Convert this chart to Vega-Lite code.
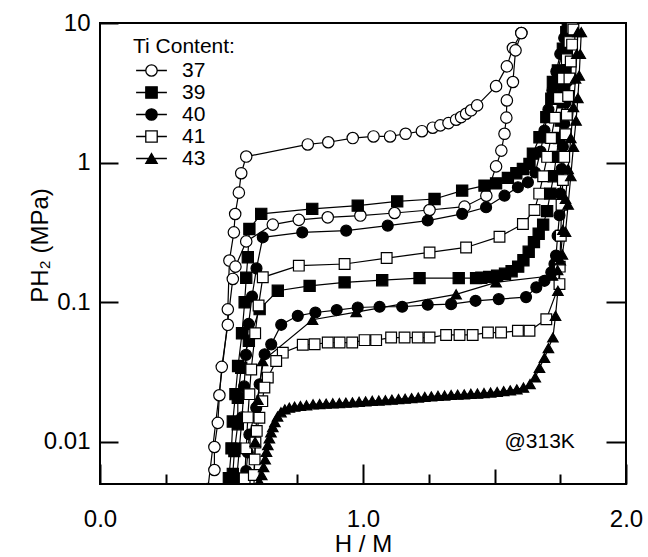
{
"$schema": "https://vega.github.io/schema/vega-lite/v6.json",
"width": 526, "height": 461,
"autosize": {"type": "none"},
"padding": {"left": 100, "top": 23, "right": 22, "bottom": 73},
"background": "white",
"config": {
 "view": {"stroke": "black", "strokeWidth": 2},
 "font": "Liberation Sans",
 "axis": {"domain": false, "grid": false, "tickColor": "black", "tickWidth": 2, "labelColor": "black", "titleColor": "black", "labelFont": "Liberation Sans", "titleFont": "Liberation Sans", "titleFontWeight": "normal", "labelFlush": false, "labelOverlap": false},
 "legend": {"orient": "none", "legendX": 33, "legendY": 13, "padding": 0, "titleFont": "Liberation Sans", "titleFontSize": 21, "titleFontWeight": "normal", "titleColor": "black", "titlePadding": 3, "labelFont": "Liberation Sans", "labelFontSize": 21, "labelColor": "black", "labelOffset": 20, "symbolOffset": 8, "rowPadding": 0, "symbolSize": 130, "symbolStrokeColor": "black", "symbolStrokeWidth": 1.3}
},
"datasets": {"pct": [
{"t":"37","b":"a","i":1,"h":0.435,"p":0.0063},{"t":"37","b":"a","i":2,"h":0.435,"p":0.0092},{"t":"37","b":"a","i":3,"h":0.448,"p":0.0137},{"t":"37","b":"a","i":4,"h":0.454,"p":0.0216},{"t":"37","b":"a","i":5,"h":0.463,"p":0.0345},{"t":"37","b":"a","i":6,"h":0.486,"p":0.069},{"t":"37","b":"a","i":7,"h":0.486,"p":0.089},{"t":"37","b":"a","i":8,"h":0.492,"p":0.199},{"t":"37","b":"a","i":9,"h":0.509,"p":0.317},{"t":"37","b":"a","i":10,"h":0.514,"p":0.429},{"t":"37","b":"a","i":11,"h":0.528,"p":0.61},{"t":"37","b":"a","i":12,"h":0.537,"p":0.84},{"t":"37","b":"a","i":13,"h":0.556,"p":1.106},{"t":"37","b":"a","i":14,"h":0.79,"p":1.35},{"t":"37","b":"a","i":15,"h":0.868,"p":1.4},{"t":"37","b":"a","i":16,"h":0.961,"p":1.5},{"t":"37","b":"a","i":17,"h":1.04,"p":1.54},{"t":"37","b":"a","i":18,"h":1.103,"p":1.54},{"t":"37","b":"a","i":19,"h":1.162,"p":1.61},{"t":"37","b":"a","i":20,"h":1.224,"p":1.68},{"t":"37","b":"a","i":21,"h":1.265,"p":1.78},{"t":"37","b":"a","i":22,"h":1.294,"p":1.85},{"t":"37","b":"a","i":23,"h":1.325,"p":1.92},{"t":"37","b":"a","i":24,"h":1.354,"p":2.03},{"t":"37","b":"a","i":25,"h":1.373,"p":2.12},{"t":"37","b":"a","i":26,"h":1.392,"p":2.24},{"t":"37","b":"a","i":27,"h":1.411,"p":2.37},{"t":"37","b":"a","i":28,"h":1.434,"p":2.57},{"t":"37","b":"a","i":29,"h":1.506,"p":3.53},{"t":"37","b":"a","i":30,"h":1.547,"p":4.89},{"t":"37","b":"a","i":31,"h":1.57,"p":6.62},{"t":"37","b":"a","i":32,"h":1.602,"p":8.47},
{"t":"37","b":"d","i":1,"h":1.602,"p":8.47},{"t":"37","b":"d","i":2,"h":1.58,"p":6.37},{"t":"37","b":"d","i":3,"h":1.57,"p":3.78},{"t":"37","b":"d","i":4,"h":1.547,"p":2.79},{"t":"37","b":"d","i":5,"h":1.545,"p":2.1},{"t":"37","b":"d","i":6,"h":1.538,"p":1.61},{"t":"37","b":"d","i":7,"h":1.526,"p":1.22},{"t":"37","b":"d","i":8,"h":1.506,"p":0.94},{"t":"37","b":"d","i":9,"h":1.469,"p":0.58},{"t":"37","b":"d","i":10,"h":1.386,"p":0.484},{"t":"37","b":"d","i":11,"h":1.253,"p":0.458},{"t":"37","b":"d","i":12,"h":1.12,"p":0.436},{"t":"37","b":"d","i":13,"h":0.99,"p":0.418},{"t":"37","b":"d","i":14,"h":0.866,"p":0.406},{"t":"37","b":"d","i":15,"h":0.756,"p":0.389},{"t":"37","b":"d","i":16,"h":0.657,"p":0.36},{"t":"37","b":"d","i":17,"h":0.556,"p":0.273},{"t":"37","b":"d","i":18,"h":0.515,"p":0.18},{"t":"37","b":"d","i":19,"h":0.505,"p":0.147},{"t":"37","b":"d","i":20,"h":0.41,"p":0.0046},
{"t":"39","b":"a","i":1,"h":0.49,"p":0.0055},{"t":"39","b":"a","i":2,"h":0.5,"p":0.009},{"t":"39","b":"a","i":3,"h":0.505,"p":0.014},{"t":"39","b":"a","i":4,"h":0.515,"p":0.022},{"t":"39","b":"a","i":5,"h":0.525,"p":0.035},{"t":"39","b":"a","i":6,"h":0.54,"p":0.06},{"t":"39","b":"a","i":7,"h":0.55,"p":0.1},{"t":"39","b":"a","i":8,"h":0.556,"p":0.15},{"t":"39","b":"a","i":9,"h":0.562,"p":0.21},{"t":"39","b":"a","i":10,"h":0.568,"p":0.335},{"t":"39","b":"a","i":11,"h":0.613,"p":0.43},{"t":"39","b":"a","i":12,"h":0.807,"p":0.467},{"t":"39","b":"a","i":13,"h":0.98,"p":0.492},{"t":"39","b":"a","i":14,"h":1.13,"p":0.528},{"t":"39","b":"a","i":15,"h":1.272,"p":0.549},{"t":"39","b":"a","i":16,"h":1.377,"p":0.631},{"t":"39","b":"a","i":17,"h":1.462,"p":0.685},{"t":"39","b":"a","i":18,"h":1.506,"p":0.711},{"t":"39","b":"a","i":19,"h":1.551,"p":0.778},{"t":"39","b":"a","i":20,"h":1.583,"p":0.84},{"t":"39","b":"a","i":21,"h":1.608,"p":0.9},{"t":"39","b":"a","i":22,"h":1.633,"p":0.98},{"t":"39","b":"a","i":23,"h":1.646,"p":1.16},{"t":"39","b":"a","i":24,"h":1.671,"p":1.52},{"t":"39","b":"a","i":25,"h":1.697,"p":2.12},{"t":"39","b":"a","i":26,"h":1.716,"p":2.87},{"t":"39","b":"a","i":27,"h":1.722,"p":3.78},{"t":"39","b":"a","i":28,"h":1.741,"p":4.58},{"t":"39","b":"a","i":29,"h":1.76,"p":6.55},{"t":"39","b":"a","i":30,"h":1.773,"p":8.6},
{"t":"39","b":"d","i":1,"h":1.785,"p":9.6},{"t":"39","b":"d","i":2,"h":1.78,"p":7.5},{"t":"39","b":"d","i":3,"h":1.775,"p":5.8},{"t":"39","b":"d","i":4,"h":1.77,"p":4.5},{"t":"39","b":"d","i":5,"h":1.765,"p":3.5},{"t":"39","b":"d","i":6,"h":1.76,"p":2.7},{"t":"39","b":"d","i":7,"h":1.752,"p":2.0},{"t":"39","b":"d","i":8,"h":1.745,"p":1.5},{"t":"39","b":"d","i":9,"h":1.735,"p":1.1},{"t":"39","b":"d","i":10,"h":1.725,"p":0.8},{"t":"39","b":"d","i":11,"h":1.712,"p":0.6},{"t":"39","b":"d","i":12,"h":1.7,"p":0.45},{"t":"39","b":"d","i":13,"h":1.685,"p":0.36},{"t":"39","b":"d","i":14,"h":1.668,"p":0.31},{"t":"39","b":"d","i":15,"h":1.65,"p":0.27},{"t":"39","b":"d","i":16,"h":1.63,"p":0.23},{"t":"39","b":"d","i":17,"h":1.61,"p":0.2},{"t":"39","b":"d","i":18,"h":1.59,"p":0.18},{"t":"39","b":"d","i":19,"h":1.565,"p":0.167},{"t":"39","b":"d","i":20,"h":1.54,"p":0.16},{"t":"39","b":"d","i":21,"h":1.51,"p":0.155},{"t":"39","b":"d","i":22,"h":1.48,"p":0.152},{"t":"39","b":"d","i":23,"h":1.45,"p":0.15},{"t":"39","b":"d","i":24,"h":1.43,"p":0.149},{"t":"39","b":"d","i":25,"h":1.364,"p":0.149},{"t":"39","b":"d","i":26,"h":1.215,"p":0.149},{"t":"39","b":"d","i":27,"h":1.073,"p":0.144},{"t":"39","b":"d","i":28,"h":0.93,"p":0.139},{"t":"39","b":"d","i":29,"h":0.797,"p":0.131},{"t":"39","b":"d","i":30,"h":0.676,"p":0.121},{"t":"39","b":"d","i":31,"h":0.607,"p":0.0893},{"t":"39","b":"d","i":32,"h":0.566,"p":0.053},{"t":"39","b":"d","i":33,"h":0.537,"p":0.034},{"t":"39","b":"d","i":34,"h":0.524,"p":0.0207},{"t":"39","b":"d","i":35,"h":0.524,"p":0.0134},{"t":"39","b":"d","i":36,"h":0.511,"p":0.0086},{"t":"39","b":"d","i":37,"h":0.505,"p":0.0059},
{"t":"40","b":"a","i":1,"h":0.52,"p":0.0055},{"t":"40","b":"a","i":2,"h":0.53,"p":0.009},{"t":"40","b":"a","i":3,"h":0.54,"p":0.015},{"t":"40","b":"a","i":4,"h":0.548,"p":0.025},{"t":"40","b":"a","i":5,"h":0.555,"p":0.042},{"t":"40","b":"a","i":6,"h":0.565,"p":0.07},{"t":"40","b":"a","i":7,"h":0.578,"p":0.11},{"t":"40","b":"a","i":8,"h":0.595,"p":0.175},{"t":"40","b":"a","i":9,"h":0.619,"p":0.292},{"t":"40","b":"a","i":10,"h":0.769,"p":0.317},{"t":"40","b":"a","i":11,"h":0.936,"p":0.326},{"t":"40","b":"a","i":12,"h":1.094,"p":0.354},{"t":"40","b":"a","i":13,"h":1.246,"p":0.385},{"t":"40","b":"a","i":14,"h":1.377,"p":0.43},{"t":"40","b":"a","i":15,"h":1.468,"p":0.479},{"t":"40","b":"a","i":16,"h":1.538,"p":0.58},{"t":"40","b":"a","i":17,"h":1.589,"p":0.667},{"t":"40","b":"a","i":18,"h":1.627,"p":0.723},{"t":"40","b":"a","i":19,"h":1.655,"p":0.85},{"t":"40","b":"a","i":20,"h":1.675,"p":1.2},{"t":"40","b":"a","i":21,"h":1.69,"p":1.7},{"t":"40","b":"a","i":22,"h":1.705,"p":2.4},{"t":"40","b":"a","i":23,"h":1.72,"p":3.3},{"t":"40","b":"a","i":24,"h":1.735,"p":4.5},{"t":"40","b":"a","i":25,"h":1.75,"p":6.0},{"t":"40","b":"a","i":26,"h":1.765,"p":7.8},{"t":"40","b":"a","i":27,"h":1.778,"p":9.6},
{"t":"40","b":"d","i":1,"h":1.79,"p":9.5},{"t":"40","b":"d","i":2,"h":1.785,"p":7.0},{"t":"40","b":"d","i":3,"h":1.78,"p":5.2},{"t":"40","b":"d","i":4,"h":1.775,"p":3.8},{"t":"40","b":"d","i":5,"h":1.77,"p":2.7},{"t":"40","b":"d","i":6,"h":1.765,"p":1.9},{"t":"40","b":"d","i":7,"h":1.76,"p":1.3},{"t":"40","b":"d","i":8,"h":1.755,"p":0.9},{"t":"40","b":"d","i":9,"h":1.75,"p":0.6},{"t":"40","b":"d","i":10,"h":1.747,"p":0.42},{"t":"40","b":"d","i":11,"h":1.74,"p":0.3},{"t":"40","b":"d","i":12,"h":1.734,"p":0.216},{"t":"40","b":"d","i":13,"h":1.728,"p":0.188},{"t":"40","b":"d","i":14,"h":1.716,"p":0.164},{"t":"40","b":"d","i":15,"h":1.69,"p":0.1425},{"t":"40","b":"d","i":16,"h":1.659,"p":0.128},{"t":"40","b":"d","i":17,"h":1.62,"p":0.109},{"t":"40","b":"d","i":18,"h":1.516,"p":0.1054},{"t":"40","b":"d","i":19,"h":1.428,"p":0.1025},{"t":"40","b":"d","i":20,"h":1.335,"p":0.097},{"t":"40","b":"d","i":21,"h":1.246,"p":0.096},{"t":"40","b":"d","i":22,"h":1.149,"p":0.0929},{"t":"40","b":"d","i":23,"h":1.063,"p":0.0929},{"t":"40","b":"d","i":24,"h":0.98,"p":0.0918},{"t":"40","b":"d","i":25,"h":0.9,"p":0.088},{"t":"40","b":"d","i":26,"h":0.819,"p":0.0845},{"t":"40","b":"d","i":27,"h":0.752,"p":0.08},{"t":"40","b":"d","i":28,"h":0.689,"p":0.069},{"t":"40","b":"d","i":29,"h":0.651,"p":0.05},{"t":"40","b":"d","i":30,"h":0.626,"p":0.0425},{"t":"40","b":"d","i":31,"h":0.607,"p":0.0259},{"t":"40","b":"d","i":32,"h":0.594,"p":0.0176},{"t":"40","b":"d","i":33,"h":0.568,"p":0.0113},{"t":"40","b":"d","i":34,"h":0.562,"p":0.0084},{"t":"40","b":"d","i":35,"h":0.556,"p":0.0062},
{"t":"41","b":"a","i":1,"h":0.55,"p":0.0055},{"t":"41","b":"a","i":2,"h":0.556,"p":0.009},{"t":"41","b":"a","i":3,"h":0.562,"p":0.015},{"t":"41","b":"a","i":4,"h":0.568,"p":0.022},{"t":"41","b":"a","i":5,"h":0.575,"p":0.033},{"t":"41","b":"a","i":6,"h":0.59,"p":0.06},{"t":"41","b":"a","i":7,"h":0.603,"p":0.095},{"t":"41","b":"a","i":8,"h":0.619,"p":0.151},{"t":"41","b":"a","i":9,"h":0.756,"p":0.183},{"t":"41","b":"a","i":10,"h":0.93,"p":0.188},{"t":"41","b":"a","i":11,"h":1.09,"p":0.2075},{"t":"41","b":"a","i":12,"h":1.253,"p":0.2276},{"t":"41","b":"a","i":13,"h":1.392,"p":0.247},{"t":"41","b":"a","i":14,"h":1.519,"p":0.295},{"t":"41","b":"a","i":15,"h":1.608,"p":0.364},{"t":"41","b":"a","i":16,"h":1.652,"p":0.458},{"t":"41","b":"a","i":17,"h":1.67,"p":0.6},{"t":"41","b":"a","i":18,"h":1.685,"p":0.8},{"t":"41","b":"a","i":19,"h":1.7,"p":1.1},{"t":"41","b":"a","i":20,"h":1.715,"p":1.5},{"t":"41","b":"a","i":21,"h":1.73,"p":2.1},{"t":"41","b":"a","i":22,"h":1.745,"p":2.9},{"t":"41","b":"a","i":23,"h":1.76,"p":4.0},{"t":"41","b":"a","i":24,"h":1.775,"p":5.5},{"t":"41","b":"a","i":25,"h":1.785,"p":7.3},{"t":"41","b":"a","i":26,"h":1.795,"p":9.2},
{"t":"41","b":"d","i":1,"h":1.8,"p":9.0},{"t":"41","b":"d","i":2,"h":1.795,"p":7.0},{"t":"41","b":"d","i":3,"h":1.79,"p":5.3},{"t":"41","b":"d","i":4,"h":1.785,"p":4.0},{"t":"41","b":"d","i":5,"h":1.78,"p":3.0},{"t":"41","b":"d","i":6,"h":1.775,"p":2.2},{"t":"41","b":"d","i":7,"h":1.77,"p":1.6},{"t":"41","b":"d","i":8,"h":1.765,"p":1.1},{"t":"41","b":"d","i":9,"h":1.76,"p":0.75},{"t":"41","b":"d","i":10,"h":1.755,"p":0.5},{"t":"41","b":"d","i":11,"h":1.752,"p":0.3},{"t":"41","b":"d","i":12,"h":1.748,"p":0.18},{"t":"41","b":"d","i":13,"h":1.747,"p":0.135},{"t":"41","b":"d","i":14,"h":1.697,"p":0.0757},{"t":"41","b":"d","i":15,"h":1.633,"p":0.0625},{"t":"41","b":"d","i":16,"h":1.589,"p":0.0625},{"t":"41","b":"d","i":17,"h":1.525,"p":0.0607},{"t":"41","b":"d","i":18,"h":1.475,"p":0.0607},{"t":"41","b":"d","i":19,"h":1.417,"p":0.0584},{"t":"41","b":"d","i":20,"h":1.367,"p":0.0584},{"t":"41","b":"d","i":21,"h":1.316,"p":0.0584},{"t":"41","b":"d","i":22,"h":1.253,"p":0.0559},{"t":"41","b":"d","i":23,"h":1.208,"p":0.0559},{"t":"41","b":"d","i":24,"h":1.158,"p":0.0559},{"t":"41","b":"d","i":25,"h":1.107,"p":0.0559},{"t":"41","b":"d","i":26,"h":1.05,"p":0.0536},{"t":"41","b":"d","i":27,"h":1.006,"p":0.0536},{"t":"41","b":"d","i":28,"h":0.959,"p":0.0515},{"t":"41","b":"d","i":29,"h":0.911,"p":0.0515},{"t":"41","b":"d","i":30,"h":0.866,"p":0.0515},{"t":"41","b":"d","i":31,"h":0.816,"p":0.0501},{"t":"41","b":"d","i":32,"h":0.771,"p":0.0496},{"t":"41","b":"d","i":33,"h":0.695,"p":0.0436},{"t":"41","b":"d","i":34,"h":0.67,"p":0.038},{"t":"41","b":"d","i":35,"h":0.638,"p":0.0289},{"t":"41","b":"d","i":36,"h":0.625,"p":0.0245},{"t":"41","b":"d","i":37,"h":0.617,"p":0.0196},{"t":"41","b":"d","i":38,"h":0.606,"p":0.0149},{"t":"41","b":"d","i":39,"h":0.596,"p":0.012},{"t":"41","b":"d","i":40,"h":0.591,"p":0.0099},{"t":"41","b":"d","i":41,"h":0.588,"p":0.0075},{"t":"41","b":"d","i":42,"h":0.585,"p":0.0058},
{"t":"43","b":"a","i":1,"h":0.606,"p":0.0052},{"t":"43","b":"a","i":2,"h":0.615,"p":0.0058},{"t":"43","b":"a","i":3,"h":0.622,"p":0.0066},{"t":"43","b":"a","i":4,"h":0.628,"p":0.0075},{"t":"43","b":"a","i":5,"h":0.633,"p":0.0085},{"t":"43","b":"a","i":6,"h":0.638,"p":0.0095},{"t":"43","b":"a","i":7,"h":0.644,"p":0.0106},{"t":"43","b":"a","i":8,"h":0.65,"p":0.0117},{"t":"43","b":"a","i":9,"h":0.657,"p":0.0128},{"t":"43","b":"a","i":10,"h":0.665,"p":0.0139},{"t":"43","b":"a","i":11,"h":0.675,"p":0.0152},{"t":"43","b":"a","i":12,"h":0.688,"p":0.0163},{"t":"43","b":"a","i":13,"h":0.703,"p":0.0171},{"t":"43","b":"a","i":14,"h":0.72,"p":0.0176},{"t":"43","b":"a","i":15,"h":0.74,"p":0.0179},{"t":"43","b":"a","i":16,"h":0.762,"p":0.0181},{"t":"43","b":"a","i":17,"h":0.785,"p":0.0183},{"t":"43","b":"a","i":18,"h":0.81,"p":0.0186},{"t":"43","b":"a","i":19,"h":0.835,"p":0.0187},{"t":"43","b":"a","i":20,"h":0.86,"p":0.0188},{"t":"43","b":"a","i":21,"h":0.885,"p":0.0189},{"t":"43","b":"a","i":22,"h":0.91,"p":0.019},{"t":"43","b":"a","i":23,"h":0.935,"p":0.0191},{"t":"43","b":"a","i":24,"h":0.96,"p":0.0192},{"t":"43","b":"a","i":25,"h":0.985,"p":0.0194},{"t":"43","b":"a","i":26,"h":1.01,"p":0.0195},{"t":"43","b":"a","i":27,"h":1.035,"p":0.0197},{"t":"43","b":"a","i":28,"h":1.06,"p":0.0198},{"t":"43","b":"a","i":29,"h":1.085,"p":0.0199},{"t":"43","b":"a","i":30,"h":1.11,"p":0.0201},{"t":"43","b":"a","i":31,"h":1.135,"p":0.0203},{"t":"43","b":"a","i":32,"h":1.16,"p":0.0204},{"t":"43","b":"a","i":33,"h":1.185,"p":0.0206},{"t":"43","b":"a","i":34,"h":1.21,"p":0.0208},{"t":"43","b":"a","i":35,"h":1.235,"p":0.021},{"t":"43","b":"a","i":36,"h":1.26,"p":0.0212},{"t":"43","b":"a","i":37,"h":1.285,"p":0.0214},{"t":"43","b":"a","i":38,"h":1.31,"p":0.0215},{"t":"43","b":"a","i":39,"h":1.335,"p":0.0217},{"t":"43","b":"a","i":40,"h":1.36,"p":0.0218},{"t":"43","b":"a","i":41,"h":1.385,"p":0.0219},{"t":"43","b":"a","i":42,"h":1.41,"p":0.0221},{"t":"43","b":"a","i":43,"h":1.435,"p":0.0222},{"t":"43","b":"a","i":44,"h":1.46,"p":0.0224},{"t":"43","b":"a","i":45,"h":1.485,"p":0.0226},{"t":"43","b":"a","i":46,"h":1.51,"p":0.0228},{"t":"43","b":"a","i":47,"h":1.535,"p":0.0231},{"t":"43","b":"a","i":48,"h":1.56,"p":0.0234},{"t":"43","b":"a","i":49,"h":1.585,"p":0.0238},{"t":"43","b":"a","i":50,"h":1.61,"p":0.0245},{"t":"43","b":"a","i":51,"h":1.635,"p":0.026},{"t":"43","b":"a","i":52,"h":1.655,"p":0.029},{"t":"43","b":"a","i":53,"h":1.671,"p":0.034},{"t":"43","b":"a","i":54,"h":1.69,"p":0.04},{"t":"43","b":"a","i":55,"h":1.705,"p":0.047},{"t":"43","b":"a","i":56,"h":1.722,"p":0.056},{"t":"43","b":"a","i":57,"h":1.732,"p":0.08},{"t":"43","b":"a","i":58,"h":1.741,"p":0.121},{"t":"43","b":"a","i":59,"h":1.75,"p":0.2},{"t":"43","b":"a","i":60,"h":1.76,"p":0.33},{"t":"43","b":"a","i":61,"h":1.77,"p":0.55},{"t":"43","b":"a","i":62,"h":1.78,"p":0.9},{"t":"43","b":"a","i":63,"h":1.79,"p":1.5},{"t":"43","b":"a","i":64,"h":1.8,"p":2.5},{"t":"43","b":"a","i":65,"h":1.808,"p":4.0},{"t":"43","b":"a","i":66,"h":1.813,"p":6.0},{"t":"43","b":"a","i":67,"h":1.817,"p":8.6},
{"t":"43","b":"d","i":1,"h":1.83,"p":8.6},{"t":"43","b":"d","i":2,"h":1.826,"p":6.0},{"t":"43","b":"d","i":3,"h":1.822,"p":4.2},{"t":"43","b":"d","i":4,"h":1.817,"p":2.9},{"t":"43","b":"d","i":5,"h":1.81,"p":2.0},{"t":"43","b":"d","i":6,"h":1.8,"p":1.3},{"t":"43","b":"d","i":7,"h":1.79,"p":0.8},{"t":"43","b":"d","i":8,"h":1.78,"p":0.5},{"t":"43","b":"d","i":9,"h":1.77,"p":0.32},{"t":"43","b":"d","i":10,"h":1.758,"p":0.22},{"t":"43","b":"d","i":11,"h":1.74,"p":0.17},{"t":"43","b":"d","i":12,"h":1.72,"p":0.155},{"t":"43","b":"d","i":13,"h":1.506,"p":0.139},{"t":"43","b":"d","i":14,"h":1.354,"p":0.114},{"t":"43","b":"d","i":15,"h":0.974,"p":0.085},{"t":"43","b":"d","i":16,"h":0.808,"p":0.075},{"t":"43","b":"d","i":17,"h":0.618,"p":0.038},{"t":"43","b":"d","i":18,"h":0.6,"p":0.02},{"t":"43","b":"d","i":19,"h":0.59,"p":0.01},{"t":"43","b":"d","i":20,"h":0.585,"p":0.0045}
]},
"layer": [
 {"data": {"name": "pct"},
  "mark": {"type": "line", "color": "black", "strokeWidth": 1.2, "clip": true},
  "encoding": {
   "x": {"field": "h", "type": "quantitative", "scale": {"domain": [0, 2], "nice": false, "zero": false},
         "axis": {"orient": "bottom", "values": [0, 1, 2], "format": ".1f", "tickSize": -20, "labelPadding": 43, "labelFontSize": 24, "title": "H / M", "titleFontSize": 24, "titleX": 263, "titleY": 60, "titleBaseline": "middle", "titleAlign": "center"}},
   "y": {"field": "p", "type": "quantitative", "scale": {"type": "log", "domain": [0.005, 10], "nice": false},
         "axis": {"orient": "left", "values": [0.01, 0.1, 1, 10], "format": "~g", "tickSize": -18, "labelPadding": 28, "labelFontSize": 24, "labelBaseline": "middle", "title": "PH₂ (MPa)", "titleFontSize": 24, "titleX": -60, "titleY": 222, "titleAngle": 270, "titleBaseline": "middle", "titleAlign": "center"}},
   "detail": [{"field": "t"}, {"field": "b"}],
   "order": {"field": "i", "type": "quantitative"}
  }},
 {"data": {"name": "pct"},
  "mark": {"type": "point", "filled": true, "stroke": "black", "strokeWidth": 1.2, "opacity": 1, "clip": true},
  "encoding": {
   "x": {"field": "h", "type": "quantitative", "scale": {"domain": [0, 2], "nice": false, "zero": false}, "axis": {"orient": "bottom", "values": [0.5, 1.5], "tickSize": -15, "labels": false, "title": null}},
   "y": {"field": "p", "type": "quantitative", "scale": {"type": "log", "domain": [0.005, 10], "nice": false}, "axis": {"orient": "right", "values": [0.01, 0.1, 1], "tickSize": -20, "labels": false, "title": null}},
   "shape": {"field": "t", "type": "nominal", "scale": {"domain": ["37", "39", "40", "41", "43"], "range": ["circle", "square", "circle", "square", "triangle-up"]},
     "legend": {"title": "Ti Content:"}},
   "fill": {"field": "t", "type": "nominal", "scale": {"domain": ["37", "39", "40", "41", "43"], "range": ["white", "black", "black", "white", "black"]},
     "legend": {"title": "Ti Content:"}},
   "size": {"field": "t", "type": "nominal", "scale": {"domain": ["43", "41", "40", "39", "37"], "range": [110, 130, 160, 150, 121]}, "legend": null}
  }},
 {"data": {"values": [{"h": 1.538, "p": 0.01, "txt": "@313K"}]},
  "mark": {"type": "text", "align": "left", "baseline": "middle", "fontSize": 21, "font": "Liberation Sans", "color": "black"},
  "encoding": {
   "x": {"field": "h", "type": "quantitative", "scale": {"domain": [0, 2], "nice": false, "zero": false}, "axis": {"orient": "bottom", "values": [0.25, 0.75, 1.25, 1.75], "tickSize": -10, "labels": false, "title": null}},
   "y": {"field": "p", "type": "quantitative", "scale": {"type": "log", "domain": [0.005, 10], "nice": false}, "axis": null},
   "text": {"field": "txt"}
  }},
 {"data": {"name": "pct"},
  "mark": {"type": "point", "filled": false, "color": "black", "strokeWidth": 1.3, "opacity": 0, "clip": true},
  "encoding": {
   "x": {"field": "h", "type": "quantitative", "scale": {"domain": [0, 2], "nice": false, "zero": false}, "axis": null},
   "y": {"field": "p", "type": "quantitative", "scale": {"type": "log", "domain": [0.005, 10], "nice": false}, "axis": null},
   "shape": {"field": "t", "type": "nominal",
     "scale": {"range": ["M1,0A1,1,0,1,1,-1,0A1,1,0,1,1,1,0ZM-2.7,0H-1M1,0H2.7", "M-1,-1H1V1H-1ZM-2.7,0H-1M1,0H2.7", "M1,0A1,1,0,1,1,-1,0A1,1,0,1,1,1,0ZM-2.7,0H-1M1,0H2.7", "M-1,-1H1V1H-1ZM-2.7,0H-1M1,0H2.7", "M0,-0.866L1,0.866L-1,0.866ZM-2.7,0H-0.5M0.5,0H2.7"]},
     "legend": {"title": "Ti Content:", "titleOpacity": 0, "labelOpacity": 0, "symbolOpacity": 1, "symbolFillColor": "transparent"}}
  }}
],
"resolve": {"axis": {"x": "independent", "y": "independent"}, "scale": {"shape": "independent", "fill": "independent"}}
}
